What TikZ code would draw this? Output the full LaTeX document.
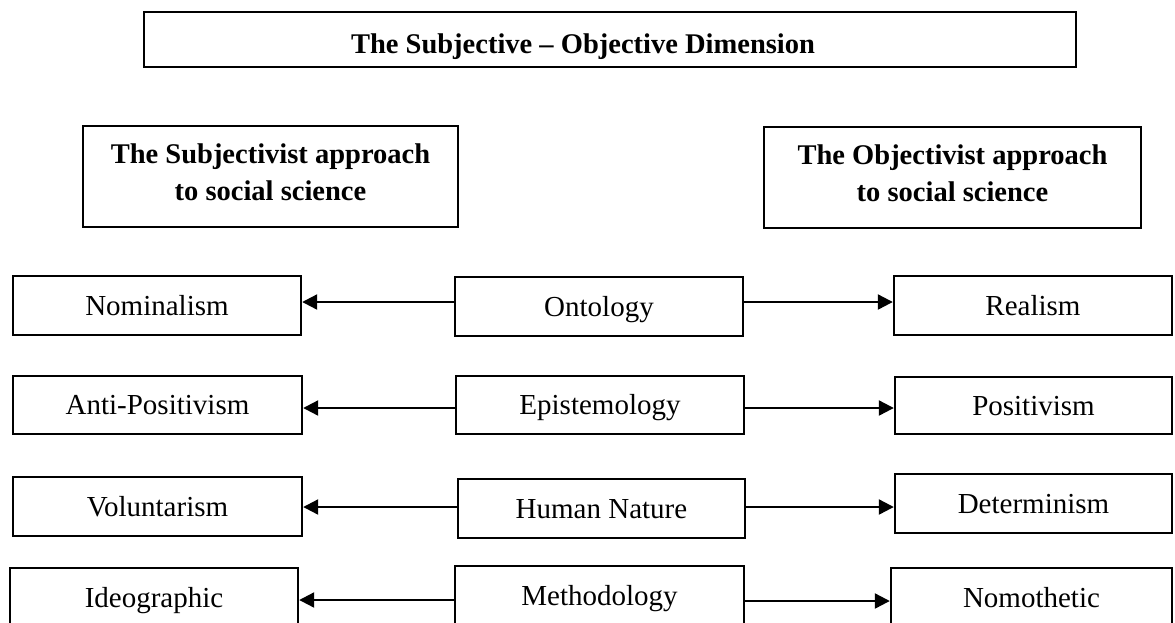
\documentclass[tikz,border=0pt]{standalone}
\usepackage{fontspec}
\setmainfont{Liberation Serif}
\usetikzlibrary{arrows.meta}
\begin{document}
\begin{tikzpicture}[x=1pt,y=-1pt,
  box/.style={draw=black, line width=2.4pt, fill=white, inner sep=0pt},
  cell/.style={box, minimum height=59pt, text height=19pt, text depth=0pt,
    font=\fontsize{29}{34}\selectfont},
  headbox/.style={box, minimum height=101pt, align=center,
    font=\fontsize{28.5}{37}\selectfont\bfseries},
  arr/.style={line width=2.2pt, -{Triangle[length=15pt,width=15pt]}}]
\useasboundingbox (0,0) rectangle (1175,622);

% title
\node[box, line width=2.8pt, minimum width=932pt, minimum height=55pt,
      text height=27pt, text depth=0pt,
      font=\fontsize{28.5}{34}\selectfont\bfseries]
  (title) at (610,39.5) {The Subjective – Objective Dimension\hspace*{54pt}};

% the two approaches
\node[headbox, minimum width=375pt] (subj) at (270.5,176.5)
  {The Subjectivist approach\\to social science\rule[-9.5pt]{0pt}{0pt}};
\node[headbox, minimum width=377pt] (obj) at (952.5,177.5)
  {The Objectivist approach\\to social science\rule[-9.5pt]{0pt}{0pt}};

% row 1
\node[cell, minimum width=288pt] (nom) at (157,305.5) {Nominalism};
\node[cell, minimum width=288pt] (ont) at (599,306.5) {Ontology};
\node[cell, minimum width=278pt] (rea) at (1033,305.5) {Realism};
% row 2
\node[cell, minimum width=289pt, minimum height=58pt] (anti) at (157.5,405) {Anti-Positivism};
\node[cell, minimum width=288pt, minimum height=58pt] (epi) at (600,405) {Epistemology};
\node[cell, minimum width=277pt, minimum height=57pt] (pos) at (1033.5,405.5) {Positivism};
% row 3
\node[cell, minimum width=289pt] (vol) at (157.5,506.5) {Voluntarism};
\node[cell, minimum width=287pt] (hum) at (601.5,508.5) {Human Nature};
\node[cell, minimum width=277pt] (det) at (1033.5,503.5) {Determinism};
% row 4
\node[cell, minimum width=288pt] (ide) at (154,597.5) {Ideographic};
\node[cell, minimum width=289pt] (met) at (599.5,595.5) {Methodology};
\node[cell, minimum width=281pt] (nomo) at (1031.5,597.5) {Nomothetic};

% connectors
\draw[arr] (ont.west |- 0,302) -- (nom.east |- 0,302);
\draw[arr] (ont.east |- 0,302) -- (rea.west |- 0,302);
\draw[arr] (epi.west |- 0,408) -- (anti.east |- 0,408);
\draw[arr] (epi.east |- 0,408) -- (pos.west |- 0,408);
\draw[arr] (hum.west |- 0,507) -- (vol.east |- 0,507);
\draw[arr] (hum.east |- 0,507) -- (det.west |- 0,507);
\draw[arr] (met.west |- 0,600) -- (ide.east |- 0,600);
\draw[arr] (met.east |- 0,601) -- (nomo.west |- 0,601);
\end{tikzpicture}
\end{document}
